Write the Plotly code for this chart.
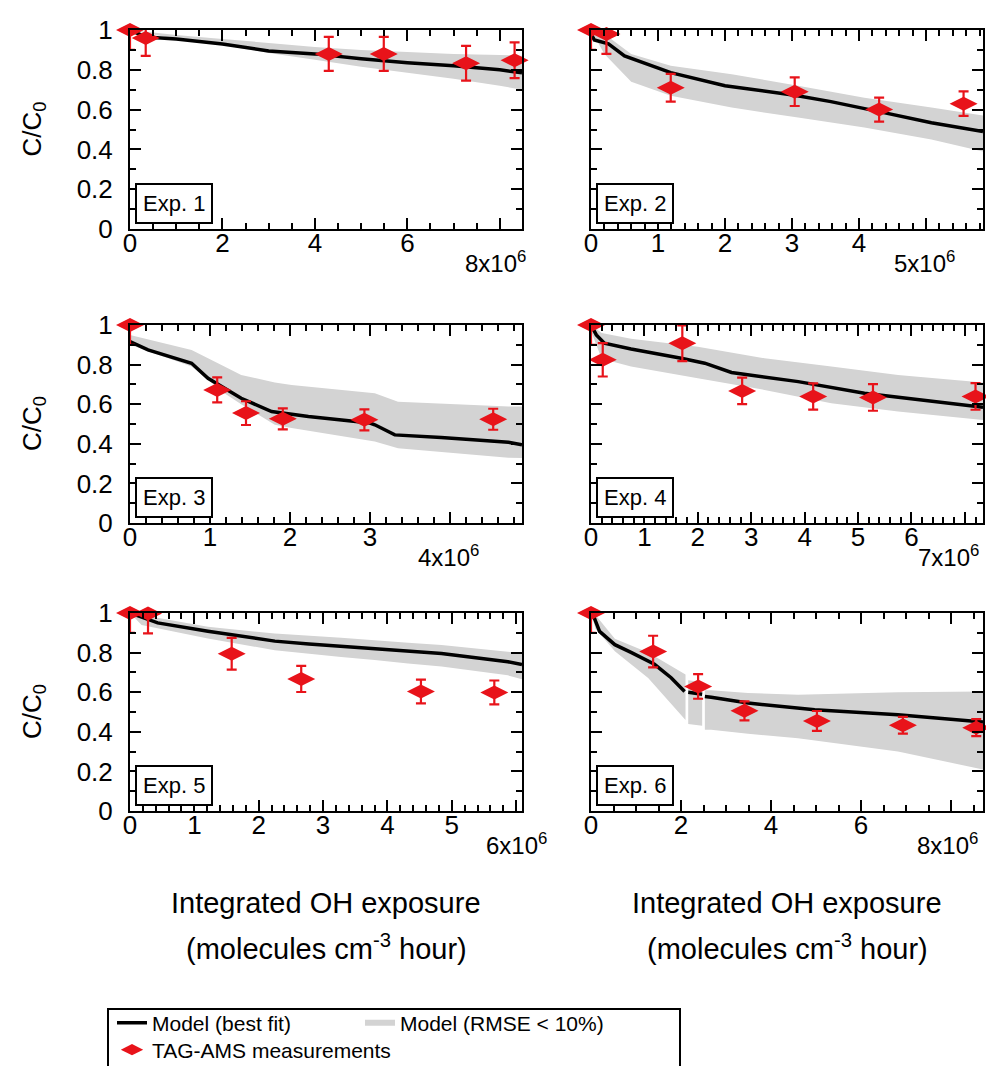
import plotly.graph_objects as go

# x values are in units of 1e6 molecules cm-3 hour
# Exp. 1
meas_x1 = [0, 0.34, 4.3, 5.49, 7.27, 8.32]
meas_y1 = [1.0, 0.96, 0.88, 0.88, 0.833, 0.848]
meas_e1 = [0.1, 0.09, 0.085, 0.085, 0.087, 0.09]
line_x1 = [0, 0.34, 1, 2, 3, 4, 5, 6, 7, 8, 8.48]
line_y1 = [1.0, 0.965, 0.955, 0.93, 0.895, 0.88, 0.855, 0.835, 0.82, 0.8, 0.785]
band_x1 = [0, 1, 2, 3, 4, 5, 6, 7, 8, 8.48]
band_hi1 = [1.0, 0.975, 0.955, 0.935, 0.915, 0.9, 0.89, 0.88, 0.875, 0.87]
band_lo1 = [1.0, 0.955, 0.925, 0.885, 0.85, 0.815, 0.785, 0.755, 0.72, 0.70]

# Exp. 2
meas_x2 = [0, 0.23, 1.19, 3.04, 4.3, 5.56]
meas_y2 = [1.0, 0.98, 0.71, 0.69, 0.60, 0.63]
meas_e2 = [0.1, 0.1, 0.07, 0.072, 0.06, 0.062]
line_x2 = [0, 0.05, 0.26, 0.5, 1.19, 2.0, 3.04, 3.58, 4.3, 5.08, 5.85]
line_y2 = [0.98, 0.95, 0.93, 0.87, 0.786, 0.72, 0.672, 0.64, 0.59, 0.534, 0.49]
band_x2 = [0, 0.2, 0.6, 1.19, 2.1, 3.09, 4.08, 5.08, 5.85]
band_hi2 = [1.0, 0.98, 0.88, 0.82, 0.778, 0.72, 0.66, 0.61, 0.57]
band_lo2 = [1.0, 0.88, 0.74, 0.67, 0.61, 0.56, 0.51, 0.45, 0.39]

# Exp. 3
meas_x3 = [0, 1.09, 1.45, 1.91, 2.93, 4.54]
meas_y3 = [1.0, 0.672, 0.555, 0.526, 0.521, 0.524]
meas_e3 = [0.1, 0.063, 0.06, 0.053, 0.053, 0.053]
line_x3 = [0, 0.225, 0.77, 0.975, 1.39, 1.77, 2.23, 2.64, 3.0, 3.06, 3.31, 3.89, 4.73, 4.9]
line_y3 = [0.916, 0.874, 0.807, 0.731, 0.63, 0.563, 0.538, 0.521, 0.505, 0.496, 0.445, 0.432, 0.408, 0.395]
band_x3 = [0, 0.77, 1.18, 1.39, 1.81, 2.02, 3.06, 3.35, 4.73, 4.9]
band_hi3 = [0.95, 0.874, 0.79, 0.748, 0.71, 0.697, 0.655, 0.613, 0.588, 0.588]
band_lo3 = [0.9, 0.79, 0.655, 0.60, 0.496, 0.48, 0.412, 0.378, 0.33, 0.328]

# Exp. 4
meas_x4 = [0, 0.22, 1.71, 2.83, 4.16, 5.28, 7.2]
meas_y4 = [1.0, 0.824, 0.908, 0.667, 0.639, 0.634, 0.639]
meas_e4 = [0.1, 0.084, 0.09, 0.067, 0.066, 0.067, 0.067]
line_x4 = [0, 0.1, 0.25, 0.75, 1.69, 2.13, 2.63, 3.88, 5.12, 6.37, 7.34]
line_y4 = [1.0, 0.95, 0.908, 0.879, 0.832, 0.807, 0.76, 0.714, 0.655, 0.617, 0.585]
band_x4 = [0, 0.2, 0.75, 2.0, 3.25, 4.5, 5.75, 7.34]
band_hi4 = [1.0, 0.96, 0.93, 0.89, 0.832, 0.79, 0.748, 0.71]
band_lo4 = [0.97, 0.83, 0.79, 0.731, 0.672, 0.605, 0.563, 0.52]

# Exp. 5
meas_x5 = [0, 0.28, 1.58, 2.66, 4.52, 5.66]
meas_y5 = [1.0, 0.997, 0.794, 0.667, 0.604, 0.599]
meas_e5 = [0.1, 0.1, 0.08, 0.066, 0.06, 0.06]
line_x5 = [0, 0.15, 0.43, 1.21, 2.25, 2.78, 3.8, 4.84, 5.87, 6.09]
line_y5 = [1.0, 0.983, 0.95, 0.908, 0.858, 0.843, 0.821, 0.796, 0.754, 0.74]
band_x5 = [0, 0.18, 1.21, 2.25, 3.28, 3.8, 4.32, 4.84, 5.87, 6.09]
band_hi5 = [1.0, 0.99, 0.93, 0.896, 0.875, 0.863, 0.85, 0.838, 0.804, 0.795]
band_lo5 = [1.0, 0.94, 0.871, 0.812, 0.778, 0.762, 0.745, 0.73, 0.685, 0.665]

# Exp. 6 (None = gap in the model output)
meas_x6 = [0, 1.38, 2.38, 3.41, 5.02, 6.93, 8.56]
meas_y6 = [1.0, 0.805, 0.629, 0.506, 0.455, 0.433, 0.421]
meas_e6 = [0.1, 0.08, 0.062, 0.048, 0.05, 0.042, 0.043]
line_x6 = [0, 0.06, 0.19, 0.53, 0.9, 1.41, 1.78, 2.08, None, 2.16, 2.47, None,
           2.53, 2.67, 3.49, 4.97, 6.82, 8.6, 8.71]
line_y6 = [1.0, 0.983, 0.907, 0.84, 0.80, 0.741, 0.673, 0.604, None, 0.60, 0.59, None,
           0.578, 0.574, 0.545, 0.511, 0.486, 0.452, 0.45]
band_x6 = [0, 0.1, 0.53, 1.27, 2.1, None, 2.16, 2.47, None, 2.53, 2.67, 3.49, 4.6, 6.82, 8.71]
band_hi6 = [1.0, 0.99, 0.87, 0.80, 0.69, None, 0.66, 0.65, None, 0.61, 0.61, 0.596, 0.587, 0.60, 0.604]
band_lo6 = [1.0, 0.92, 0.807, 0.672, 0.46, None, 0.44, 0.43, None, 0.41, 0.41, 0.39, 0.368, 0.30, 0.21]

x_max = [8.48, 5.85, 4.9, 7.34, 6.09, 8.71]
x_major = [2, 1, 1, 1, 1, 2]
x_last = [8, 5, 4, 7, 6, 8]

experiments = [
    (meas_x1, meas_y1, meas_e1, line_x1, line_y1, band_x1, band_hi1, band_lo1),
    (meas_x2, meas_y2, meas_e2, line_x2, line_y2, band_x2, band_hi2, band_lo2),
    (meas_x3, meas_y3, meas_e3, line_x3, line_y3, band_x3, band_hi3, band_lo3),
    (meas_x4, meas_y4, meas_e4, line_x4, line_y4, band_x4, band_hi4, band_lo4),
    (meas_x5, meas_y5, meas_e5, line_x5, line_y5, band_x5, band_hi5, band_lo5),
    (meas_x6, meas_y6, meas_e6, line_x6, line_y6, band_x6, band_hi6, band_lo6),
]

RED = "#e8131a"
GRAY = "#d3d3d3"
FONT = "Arial, Liberation Sans, sans-serif"
W, H = 994, 1066

# panel boxes in pixels: (left, right) and (top, bottom)
cols = [(122, 514), (583, 975)]
rows = [(22, 221), (317, 515), (605, 803)]
# horizontal nudge of the exponent label in each panel (px)
exp_shift = [-4, -2, -2, -16, 0, -4]


def band_polygon(xs, hi, lo):
    # close each gap-separated segment into its own polygon
    px, py = [], []
    seg = []
    for x, h, l in list(zip(xs, hi, lo)) + [(None, None, None)]:
        if x is None:
            if seg:
                sx = [s[0] for s in seg]
                px += sx + sx[::-1] + [None]
                py += [s[1] for s in seg] + [s[2] for s in seg][::-1] + [None]
            seg = []
        else:
            seg.append((x, h, l))
    return px, py


fig = go.Figure()

for i, (mx, my, me, lx, ly, bx, bhi, blo) in enumerate(experiments):
    n = i + 1
    xa = "x" if n == 1 else f"x{n}"
    ya = "y" if n == 1 else f"y{n}"
    px, py = band_polygon(bx, bhi, blo)
    fig.add_trace(go.Scatter(
        x=px, y=py, xaxis=xa, yaxis=ya, mode="none", fill="toself",
        fillcolor=GRAY, name="Model (RMSE < 10%)", legend="legend3",
        showlegend=(n == 1), hoverinfo="skip"))
    fig.add_trace(go.Scatter(
        x=lx, y=ly, xaxis=xa, yaxis=ya, mode="lines",
        line=dict(color="black", width=3.5), name="Model (best fit)",
        legend="legend", showlegend=(n == 1)))
    fig.add_trace(go.Scatter(
        x=mx, y=my, xaxis=xa, yaxis=ya, mode="markers",
        marker=dict(symbol="diamond-wide", size=20, color=RED),
        error_y=dict(type="data", array=me, color=RED, thickness=2.2, width=5),
        cliponaxis=False, name="TAG-AMS measurements", legend="legend2",
        showlegend=(n == 1)))

    c, r = i % 2, i // 2
    x0, x1 = cols[c]
    y0, y1 = rows[r]
    axis_common = dict(
        showline=True, linecolor="black", linewidth=2, mirror="ticks",
        ticks="inside", tickcolor="black", tickwidth=2, ticklen=11,
        showgrid=False, zeroline=False,
        tickfont=dict(family=FONT, size=26, color="black"),
    )
    step = x_major[i]
    xt = list(range(0, x_last[i] + 1, step))
    # last label carries the exponent and sits a bit lower, as an annotation
    xtext = [str(v) for v in xt[:-1]] + [""]
    fig.update_layout(**{
        ("xaxis" if n == 1 else f"xaxis{n}"): dict(
            axis_common, domain=[x0 / W, x1 / W], range=[0, x_max[i]],
            anchor=ya, tickmode="array", tickvals=xt, ticktext=xtext,
            ticklabelstandoff=-10,
            minor=dict(ticks="inside", ticklen=6, tickwidth=2, tickcolor="black",
                       dtick=step / (4 if step == 2 else 5), tick0=0),
        ),
        ("yaxis" if n == 1 else f"yaxis{n}"): dict(
            axis_common, domain=[1 - y1 / H, 1 - y0 / H], range=[0, 1],
            anchor=xa, tickmode="array", tickvals=[0, 0.2, 0.4, 0.6, 0.8, 1],
            ticktext=["0", "0.2", "0.4", "0.6", "0.8", "1"],
            showticklabels=(c == 0), ticklabelstandoff=10,
            minor=dict(ticks="inside", ticklen=6, tickwidth=2, tickcolor="black",
                       dtick=0.1, tick0=0),
        ),
    })
    fig.add_annotation(
        text=f"{xt[-1]}x10<sup>6</sup>", xref=xa, yref=f"{ya} domain",
        x=xt[-1], y=0, xanchor="center", yanchor="top", yshift=-16,
        xshift=exp_shift[i], showarrow=False,
        font=dict(family=FONT, size=24, color="black"))
    fig.add_annotation(
        text=f"Exp. {n}", xref=f"{xa} domain", yref=f"{ya} domain",
        x=0.014, y=0.025, xanchor="left", yanchor="bottom", showarrow=False,
        font=dict(family=FONT, size=22, color="black"),
        bgcolor="white", bordercolor="black", borderwidth=2, borderpad=6)
    if c == 0:
        fig.add_annotation(
            text="C/C<sub>0</sub>", xref="paper", yref="paper",
            x=25 / W, y=1 - (y0 + y1) / 2 / H, xanchor="center", yanchor="middle",
            textangle=-90, showarrow=False,
            font=dict(family=FONT, size=26, color="black"))

for c in range(2):
    cx = (cols[c][0] + cols[c][1]) / 2 / W
    fig.add_annotation(
        text="Integrated OH exposure", xref="paper", yref="paper",
        x=cx, y=1 - 895 / H, xanchor="center", yanchor="middle", showarrow=False,
        font=dict(family=FONT, size=29, color="black"))
    fig.add_annotation(
        text="(molecules cm<sup>-3</sup> hour)", xref="paper", yref="paper",
        x=cx, y=1 - 939 / H, xanchor="center", yanchor="middle", showarrow=False,
        font=dict(family=FONT, size=29, color="black"))

# legend frame
fig.add_shape(type="rect", xref="paper", yref="paper",
              x0=100 / W, x1=672 / W, y0=-0.01, y1=1 - 1001 / H,
              line=dict(color="black", width=2), fillcolor="rgba(0,0,0,0)")

legend_font = dict(family=FONT, size=21, color="black")
legend_common = dict(orientation="h", xanchor="left", yanchor="middle",
                     font=legend_font, bgcolor="rgba(0,0,0,0)", itemwidth=30)
fig.update_layout(
    width=W, height=H,
    margin=dict(l=0, r=0, t=0, b=0, autoexpand=False),
    paper_bgcolor="white", plot_bgcolor="white",
    legend=dict(legend_common, x=104 / W, y=1 - 1015 / H),
    legend3=dict(legend_common, x=352 / W, y=1 - 1015 / H),
    legend2=dict(legend_common, x=104 / W, y=1 - 1042 / H),
    showlegend=True,
)

fig.write_html("out.html")
